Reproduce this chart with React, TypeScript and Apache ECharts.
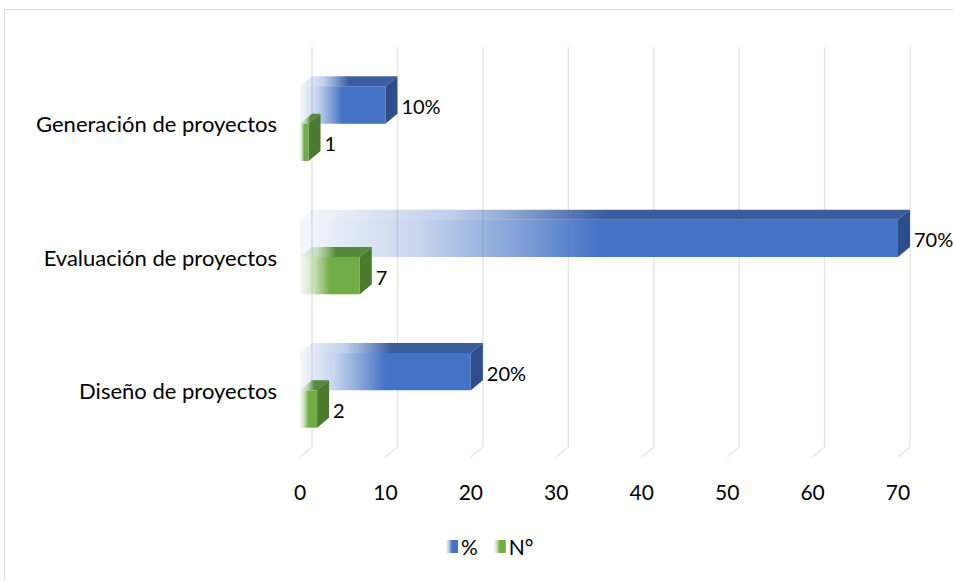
import React, { useEffect, useRef } from "react";
import * as echarts from "echarts";

const categories = ["Diseño de proyectos", "Evaluación de proyectos", "Generación de proyectos"];
const pctValues = [20, 70, 10];
const numValues = [2, 7, 1];
const xTicks = [0, 10, 20, 30, 40, 50, 60, 70];

const FONT = "Lato, 'Open Sans', sans-serif";
const DX = 12;
const DY = -10;

type Palette = { rgb: string; front: string; top: string; side: string };
const BLUE: Palette = { rgb: "68,114,196", front: "#4472C4", top: "#3A5D9F", side: "#2E4E8A" };
const GREEN: Palette = { rgb: "112,173,71", front: "#70AD47", top: "#57893A", side: "#4B7A2E" };

function stops(p: Palette) {
  return [
    { offset: 0, color: `rgba(${p.rgb},0.06)` },
    { offset: 0.2, color: `rgba(${p.rgb},0.3)` },
    { offset: 0.38, color: `rgba(${p.rgb},0.7)` },
    { offset: 0.5, color: `rgba(${p.rgb},1)` },
    { offset: 1, color: `rgba(${p.rgb},1)` },
  ];
}

function makeRender(slot: number, p: Palette, suffix: string) {
  return (params: any, api: any) => {
    const v = api.value(0);
    const cat = api.value(1);
    const [x0, c] = api.coord([0, cat]);
    const [x1] = api.coord([v, cat]);
    const band = api.size([0, 1])[1];
    const bw = band * 0.28;
    const yTop = slot === 0 ? c - bw : c;
    const yBot = yTop + bw;
    const grad = new echarts.graphic.LinearGradient(x0, 0, x1, 0, stops(p), true);
    const gradTop = new echarts.graphic.LinearGradient(
      x0,
      0,
      x1 + DX,
      0,
      [
        { offset: 0, color: `rgba(${p.rgb},0.05)` },
        { offset: 0.25, color: `rgba(${p.rgb},0.35)` },
        { offset: 0.5, color: p.top },
        { offset: 1, color: p.top },
      ],
      true
    );
    return {
      type: "group",
      children: [
        {
          type: "polygon",
          shape: {
            points: [
              [x0, yTop],
              [x0 + DX, yTop + DY],
              [x1 + DX, yTop + DY],
              [x1, yTop],
            ],
          },
          style: { fill: gradTop },
        },
        {
          type: "polygon",
          shape: {
            points: [
              [x1, yTop],
              [x1 + DX, yTop + DY],
              [x1 + DX, yBot + DY],
              [x1, yBot],
            ],
          },
          style: { fill: p.side },
        },
        {
          type: "rect",
          shape: { x: x0, y: yTop, width: x1 - x0, height: bw },
          style: { fill: grad },
        },
        {
          type: "text",
          style: {
            text: `${v}${suffix}`,
            x: x1 + DX + 4,
            y: (yTop + yBot) / 2 + 1,
            verticalAlign: "middle",
            align: "left",
            fill: "#000",
            font: `20px ${FONT}`,
          },
        },
      ],
    };
  };
}

function renderGrid(params: any, api: any) {
  const t = api.value(0);
  const [x] = api.coord([t, 0]);
  const cs = params.coordSys;
  const top = cs.y;
  const bot = cs.y + cs.height;
  return {
    type: "polyline",
    shape: {
      points: [
        [x + DX, top + DY],
        [x + DX, bot + DY],
        [x, bot],
      ],
    },
    style: { stroke: "#e6e6e6", lineWidth: 1.5, fill: "none" },
  };
}

export default function App() {
  const ref = useRef<HTMLDivElement>(null);
  useEffect(() => {
    if (!ref.current) return;
    const chart = echarts.init(ref.current, null, { renderer: "svg" });
    chart.setOption({
      animation: false,
      backgroundColor: "#fff",
      textStyle: { fontFamily: FONT },
      grid: { left: 300, right: 55, top: 57, bottom: 124, containLabel: false },
      xAxis: {
        type: "value",
        min: 0,
        max: 70,
        interval: 10,
        axisLine: { show: false },
        axisTick: { show: false },
        splitLine: { show: false },
        axisLabel: { color: "#000", fontSize: 21, margin: 24, fontFamily: FONT },
      },
      yAxis: {
        type: "category",
        data: categories,
        axisLine: { show: false },
        axisTick: { show: false },
        splitLine: { show: false },
        axisLabel: { color: "#000", fontSize: 22, margin: 23, fontFamily: FONT },
      },
      legend: {
        left: 446,
        top: 536,
        padding: 0,
        itemWidth: 12,
        itemHeight: 13,
        itemGap: 16,
        icon: "rect",
        textStyle: { color: "#000", fontSize: 21, fontFamily: FONT, padding: [0, 0, 0, -2] },
        data: [
          {
            name: "%",
            itemStyle: {
              color: new echarts.graphic.LinearGradient(0, 0, 1, 0, stops(BLUE)),
            },
          },
          {
            name: "N°",
            itemStyle: {
              color: new echarts.graphic.LinearGradient(0, 0, 1, 0, stops(GREEN)),
            },
          },
        ],
      },
      graphic: [
        {
          type: "line",
          shape: { x1: 4.5, y1: 9.5, x2: 953, y2: 9.5 },
          style: { stroke: "#d9d9d9", lineWidth: 1 },
          silent: true,
        },
        {
          type: "line",
          shape: { x1: 4.5, y1: 9.5, x2: 4.5, y2: 581 },
          style: { stroke: "#d9d9d9", lineWidth: 1 },
          silent: true,
        },
      ],
      series: [
        {
          type: "custom",
          name: "grid",
          silent: true,
          z: 0,
          renderItem: renderGrid,
          data: xTicks.map((t) => [t, 0]),
        },
        {
          type: "custom",
          name: "%",
          z: 2,
          itemStyle: { color: BLUE.front },
          renderItem: makeRender(0, BLUE, "%"),
          data: pctValues.map((v, i) => [v, i]),
        },
        {
          type: "custom",
          name: "N°",
          z: 3,
          itemStyle: { color: GREEN.front },
          renderItem: makeRender(1, GREEN, ""),
          data: numValues.map((v, i) => [v, i]),
        },
      ],
    });
    return () => chart.dispose();
  }, []);
  return (
    <div
      ref={ref}
      style={{ position: "fixed", left: 0, top: 0, width: 953, height: 581 }}
    />
  );
}
